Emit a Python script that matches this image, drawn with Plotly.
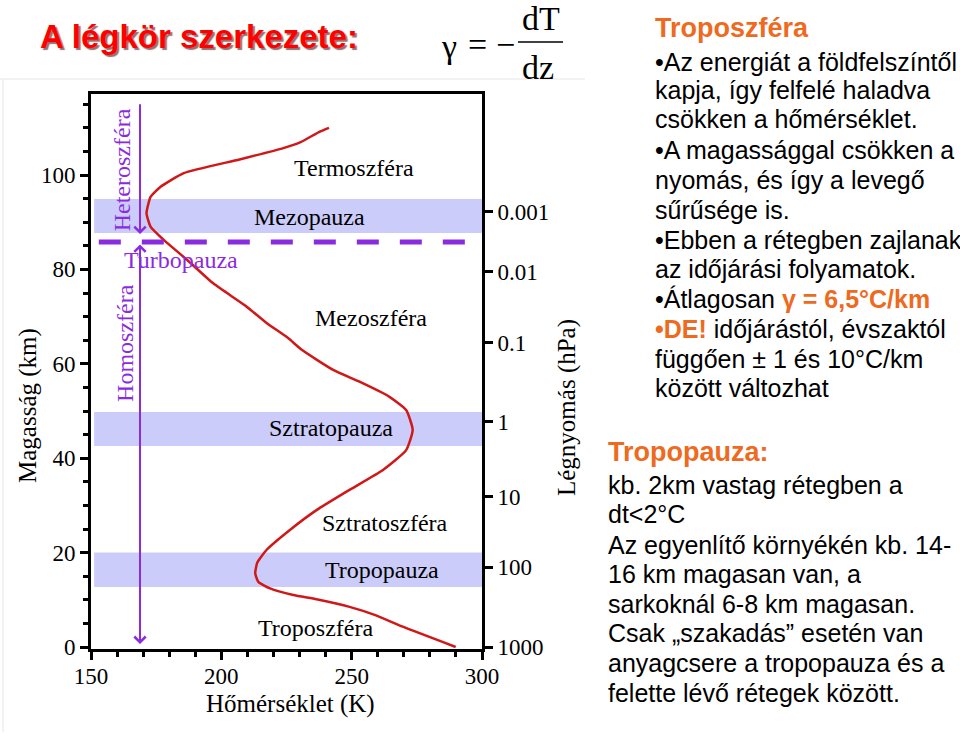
import plotly.graph_objects as go

# ---------------- data ----------------
alt_km = [0, 4.3, 6.8, 8.5, 10.1, 11.0, 12.4, 13.8, 15.6, 17.9, 20.6, 24.8, 29.0, 33.3,
          37.5, 41.7, 46.0, 50.2, 53.0, 56.2, 58.7, 62.9, 65.5, 68.6, 72.4, 77.0, 82.0,
          86.2, 89.0, 91.9, 95.4, 97.5, 100.4, 103.3, 105.7, 106.9, 109.2, 110.0]
temp_K = [289.9, 269.6, 258.8, 249.2, 236.5, 227.6, 218.7, 214.2, 213.0, 213.8, 217.4, 226.3,
          236.5, 249.2, 262.0, 270.9, 273.4, 270.9, 264.5, 253.0, 242.9, 231.0, 225.5, 217.5,
          209.0, 197.0, 186.9, 178.0, 172.9, 171.3, 172.9, 176.7, 185.6, 207.0, 223.8, 230.2,
          237.8, 241.3]

pressure_labels = ["1000", "100", "10", "1", "0.1", "0.01", "0.001"]
pressure_alt_km = [0, 16.9, 31.8, 47.7, 64.5, 79.5, 92.2]

# pause layers (bottom km, top km, label)
pause_names = ["Tropopauza", "Sztratopauza", "Mezopauza"]
pause_bottom = [12.7, 42.6, 87.7]
pause_top = [20.0, 49.8, 94.9]
pause_label_T = [261.5, 242.0, 234.0]
pause_label_z = [16.3, 46.4, 91.1]

sphere_names = ["Troposzféra", "Sztratoszféra", "Mezoszféra", "Termoszféra"]
sphere_label_T = [236.3, 262.6, 257.6, 251.0]
sphere_label_z = [4.0, 26.3, 69.7, 101.5]

turbopause_km = 85.8
arrow_T = 168.8
hetero_top_km, hetero_tip_km = 115.3, 87.5
homo_top_km, homo_tip_km = 85.6, 0.64

right_lines_1 = [
    "•Az energiát a földfelszíntől",
    "kapja, így felfelé haladva",
    "csökken a hőmérséklet.",
    "•A magassággal csökken a",
    "nyomás, és így a levegő",
    "sűrűsége is.",
    "•Ebben a rétegben zajlanak",
    "az időjárási folyamatok.",
    "•Átlagosan <b><span style='color:#EE6A1E'>γ = 6,5°C/km</span></b>",
    "<b><span style='color:#EE6A1E'>•DE!</span></b> időjárástól, évszaktól",
    "függően ± 1 és 10°C/km",
    "között változhat",
]
right_lines_1_y = [62, 90, 119, 150, 180, 210, 240, 269, 299, 329, 359, 388]
right_lines_2 = [
    "kb. 2km vastag rétegben a",
    "dt&lt;2°C",
    "Az egyenlítő környékén kb. 14-",
    "16 km magasan van, a",
    "sarkoknál 6-8 km magasan.",
    "Csak „szakadás” esetén van",
    "anyagcsere a tropopauza és a",
    "felette lévő rétegek között.",
]
right_lines_2_y = [485, 514, 545, 574, 604, 633, 663, 693]

# ---------------- layout geometry ----------------
W, H = 960, 734
L, R, T, B = 91, 482, 94, 649
Y_RANGE = [(647 - B) / 4.72, (647 - T) / 4.72]


def xp(px):
    return (px - L) / (R - L)


def yp(py):
    return (B - py) / (B - T)


PURPLE = "#8A2BE2"
ORANGE = "#EE6A1E"
SERIF = "Liberation Serif"
SANS = "Liberation Sans"
BAND = "rgb(204,204,250)"

fig = go.Figure()

fig.add_trace(go.Scatter(
    x=temp_K, y=alt_km, mode="lines",
    line=dict(color="#D01818", width=2.5, shape="spline", smoothing=0.5),
    hoverinfo="skip", showlegend=False))

fig.add_trace(go.Scatter(
    x=[300] * len(pressure_alt_km), y=pressure_alt_km, yaxis="y2", mode="markers",
    marker=dict(opacity=0), hoverinfo="skip", showlegend=False))

shapes = []
for b0, b1 in zip(pause_bottom, pause_top):
    shapes.append(dict(type="rect", xref="x", yref="y", x0=151.2, x1=300, y0=b0, y1=b1,
                       fillcolor=BAND, line=dict(width=0), layer="below"))
shapes.append(dict(type="line", xref="x", yref="y", x0=153, x1=294.5,
                   y0=turbopause_km, y1=turbopause_km,
                   line=dict(color=PURPLE, width=5, dash="22px,21px")))
# faint slide frame lines
shapes.append(dict(type="line", xref="paper", yref="paper", x0=xp(0), x1=xp(585),
                   y0=yp(79), y1=yp(79), line=dict(color="#e6e6e6", width=1)))
shapes.append(dict(type="line", xref="paper", yref="paper", x0=xp(3), x1=xp(3),
                   y0=yp(79), y1=yp(732), line=dict(color="#e6e6e6", width=1)))
# fraction bar of formula
shapes.append(dict(type="line", xref="paper", yref="paper", x0=xp(518), x1=xp(563),
                   y0=yp(42), y1=yp(42), line=dict(color="black", width=1.5)))


def pa(px, py, text, font, xanchor="center", **kw):
    d = dict(x=xp(px), y=yp(py), xref="paper", yref="paper", text=text, showarrow=False,
             xanchor=xanchor, yanchor="middle", font=font)
    d.update(kw)
    return d


ann = []
for name, tx, tz in zip(pause_names, pause_label_T, pause_label_z):
    ann.append(dict(x=tx, y=tz, xref="x", yref="y", text=name, showarrow=False,
                    xanchor="center", yanchor="middle",
                    font=dict(family=SERIF, size=24, color="black")))
for name, tx, tz in zip(sphere_names, sphere_label_T, sphere_label_z):
    ann.append(dict(x=tx, y=tz, xref="x", yref="y", text=name, showarrow=False,
                    xanchor="center", yanchor="middle",
                    font=dict(family=SERIF, size=24, color="black")))

ann.append(dict(x=184.5, y=82.0, xref="x", yref="y", text="Turbopauza", showarrow=False,
                xanchor="center", yanchor="middle",
                font=dict(family=SERIF, size=24, color=PURPLE)))
ann.append(dict(x=161.9, y=101.0, xref="x", yref="y", text="Heteroszféra", showarrow=False,
                xanchor="center", yanchor="middle",
                textangle=-90, font=dict(family=SERIF, size=24, color=PURPLE)))
ann.append(dict(x=163.0, y=64.4, xref="x", yref="y", text="Homoszféra", showarrow=False,
                xanchor="center", yanchor="middle",
                textangle=-90, font=dict(family=SERIF, size=24, color=PURPLE)))

# arrows
ann.append(dict(x=arrow_T, y=hetero_tip_km, ax=arrow_T, ay=hetero_top_km,
                xref="x", yref="y", axref="x", ayref="y", text="", showarrow=True,
                arrowhead=4, arrowsize=1.1, arrowwidth=2, arrowcolor=PURPLE, standoff=0))
ann.append(dict(x=arrow_T, y=homo_tip_km, ax=arrow_T, ay=homo_top_km,
                xref="x", yref="y", axref="x", ayref="y", text="", showarrow=True,
                arrowhead=4, startarrowhead=4, arrowside="end+start",
                arrowsize=1.1, startarrowsize=1.1, arrowwidth=2, arrowcolor=PURPLE,
                standoff=0, startstandoff=0))

# axis titles
ann.append(pa(290, 704, "Hőmérséklet (K)", dict(family=SERIF, size=25, color="black")))
ann.append(pa(28, 406, "Magasság (km)", dict(family=SERIF, size=25, color="black"), textangle=-90))
ann.append(pa(567, 408, "Légnyomás (hPa)", dict(family=SERIF, size=25, color="black"), textangle=-90))

# title with shadow
ann.append(pa(198.5, 37, "<b>A légkör szerkezete:</b>",
              dict(family=SANS, size=33, color="#FF0000",
                   shadow="2px 2px 1px rgba(70,20,20,0.6)")))

# formula
for txt, cx, cy in [("γ", 449, 47), ("=", 477, 44), ("−", 505, 44), ("dT", 541, 18), ("dz", 538, 67)]:
    ann.append(pa(cx, cy, txt, dict(family=SERIF, size=34, color="black")))

# right-hand text
ann.append(pa(653, 28, "<b>Troposzféra</b>", dict(family=SANS, size=27, color=ORANGE), xanchor="left"))
for line, ly in zip(right_lines_1, right_lines_1_y):
    ann.append(pa(653, ly, line, dict(family=SANS, size=25, color="black"), xanchor="left"))
ann.append(pa(606, 452, "<b>Tropopauza:</b>", dict(family=SANS, size=27, color=ORANGE), xanchor="left"))
for line, ly in zip(right_lines_2, right_lines_2_y):
    ann.append(pa(606, ly, line, dict(family=SANS, size=25, color="black"), xanchor="left"))

tickfont = dict(family=SERIF, size=23, color="black")
fig.update_layout(
    width=W, height=H,
    margin=dict(l=L, r=W - R, t=T, b=H - B, pad=0),
    paper_bgcolor="white", plot_bgcolor="white",
    showlegend=False,
    shapes=shapes, annotations=ann,
    xaxis=dict(range=[150, 300], tickvals=[150, 200, 250, 300], ticks="outside",
               ticklen=8, tickwidth=3, tickcolor="black", showline=True, linewidth=3,
               linecolor="black", mirror=True, showgrid=False, zeroline=False,
               tickfont=tickfont, ticklabelstandoff=-4,
               minor=dict(dtick=10, tick0=150, ticks="outside", ticklen=5, tickwidth=3,
                          tickcolor="black", showgrid=False)),
    yaxis=dict(range=Y_RANGE, tickvals=[0, 20, 40, 60, 80, 100], ticks="outside",
               ticklen=8, tickwidth=3, tickcolor="black", showline=True, linewidth=3,
               linecolor="black", mirror=True, showgrid=False, zeroline=False,
               tickfont=tickfont,
               minor=dict(dtick=5, tick0=0, ticks="outside", ticklen=5, tickwidth=3,
                          tickcolor="black", showgrid=False)),
    yaxis2=dict(range=Y_RANGE, overlaying="y", side="right", tickvals=pressure_alt_km,
                ticktext=pressure_labels, ticks="outside", ticklen=8, tickwidth=3,
                tickcolor="black", showline=True, linewidth=3, linecolor="black",
                showgrid=False, zeroline=False, tickfont=tickfont),
)

fig.write_html("out.html")
